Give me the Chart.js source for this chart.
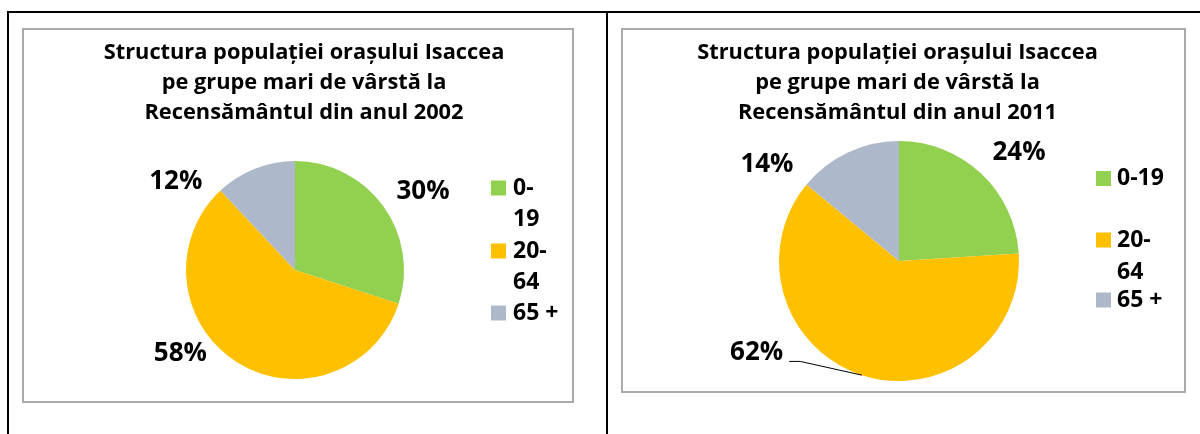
<!DOCTYPE html>
<html>
<head>
<meta charset="utf-8">
<script src="https://cdn.jsdelivr.net/npm/chart.js@4"></script>
<style>
	body { margin: 0; width: 1200px; height: 434px; background: #fff; position: relative; overflow: hidden; }
	.rule { position: absolute; background: #000; }
	.holder { position: absolute; }
	.frame { position: absolute; border: 2px solid #aaaaaa; box-sizing: border-box; pointer-events: none; }
</style>
</head>
<body>
<div class="rule" style="left:7px;top:11px;width:1193px;height:2px"></div>
<div class="rule" style="left:7px;top:11px;width:2px;height:423px"></div>
<div class="rule" style="left:606px;top:11px;width:2px;height:423px"></div>

<div class="holder" style="left:22px;top:28px;width:552px;height:375px"><canvas id="chart2002"></canvas></div>
<div class="frame" style="left:22px;top:28px;width:552px;height:375px"></div>

<div class="holder" style="left:621px;top:28px;width:565px;height:365px"><canvas id="chart2011"></canvas></div>
<div class="frame" style="left:621px;top:28px;width:565px;height:365px"></div>

<script>
// --- Data ---
const categories = ["0-19", "20-64", "65 +"];
const sliceColors = ["#92D050", "#FFC000", "#ADB9CA"];
const values2002 = [30, 58, 12];
const values2011 = [24, 62, 14];
const title2002 = ["Structura populației orașului Isaccea", "pe grupe mari de vârstă la", "Recensământul din anul 2002"];
const title2011 = ["Structura populației orașului Isaccea", "pe grupe mari de vârstă la", "Recensământul din anul 2011"];

const FONT = "'Open Sans', 'Noto Sans', sans-serif";

// draws title, percentage labels and legend on top of the pie
const decorPlugin = {
	id: "decor",
	afterDraw(chart, args, opts) {
		const ctx = chart.ctx;
		const arcs = chart.getDatasetMeta(0).data;
		const data = chart.data.datasets[0].data;
		const colors = chart.data.datasets[0].backgroundColor;
		const total = data.reduce((a, b) => a + b, 0);
		ctx.save();
		ctx.fillStyle = "#000";
		ctx.textBaseline = "middle";

		// title
		ctx.textAlign = "center";
		ctx.font = "bold 21.8px " + FONT;
		opts.title.forEach((line, i) => {
			ctx.fillText(line, opts.titleX, opts.titleY + i * opts.titleStep);
		});

		// percentage labels
		ctx.font = "bold 26px " + FONT;
		arcs.forEach((arc, i) => {
			const p = opts.labels[i];
			const mid = (arc.startAngle + arc.endAngle) / 2;
			const a = mid + (p.da * Math.PI) / 180;
			const d = arc.outerRadius * p.k;
			const x = arc.x + Math.cos(a) * d;
			const y = arc.y + Math.sin(a) * d;
			const txt = Math.round((data[i] / total) * 100) + "%";
			ctx.fillStyle = "#000";
			ctx.fillText(txt, x, y);
			if (p.leader) {
				const w = ctx.measureText(txt).width;
				const ex = arc.x + Math.cos(mid) * arc.outerRadius;
				const ey = arc.y + Math.sin(mid) * arc.outerRadius;
				ctx.strokeStyle = "#000";
				ctx.lineWidth = 1;
				ctx.beginPath();
				ctx.moveTo(x + w / 2 + 6, y + 9);
				ctx.lineTo(x + w / 2 + 17, y + 9);
				ctx.lineTo(ex, ey);
				ctx.stroke();
			}
		});

		// legend
		const lg = opts.legend;
		ctx.textAlign = "left";
		ctx.font = "bold 23px " + FONT;
		chart.data.labels.forEach((label, i) => {
			let lines = [label];
			if (ctx.measureText(label).width > lg.maxWidth && label.includes("-")) {
				const k = label.indexOf("-") + 1;
				lines = [label.slice(0, k), label.slice(k)];
			}
			const y0 = lg.rows[i];
			ctx.fillStyle = colors[i];
			ctx.fillRect(lg.x, y0 - 7.5, 15, 15);
			ctx.fillStyle = "#000";
			lines.forEach((l, j) => ctx.fillText(l, lg.x + lg.gap, y0 + j * lg.step));
		});
		ctx.restore();
	},
};

function makePie(id, values, padding, decor) {
	return new Chart(document.getElementById(id), {
		type: "pie",
		data: {
			labels: categories,
			datasets: [
				{
					data: values,
					backgroundColor: sliceColors,
					borderWidth: 0,
				},
			],
		},
		options: {
			responsive: true,
			maintainAspectRatio: false,
			animation: false,
			layout: { padding: padding },
			plugins: {
				legend: { display: false },
				tooltip: { enabled: false },
				decor: decor,
			},
		},
		plugins: [decorPlugin],
	});
}

makePie("chart2002", values2002, { left: 164, right: 170, top: 133, bottom: 24 }, {
	title: title2002,
	titleX: 282,
	titleY: 24.5,
	titleStep: 30,
	labels: [
		{ da: 4.6, k: 1.376 },
		{ da: 21.6, k: 1.3 },
		{ da: -31.9, k: 1.36 },
	],
	legend: { x: 469, gap: 22, rows: [160, 223, 285], step: 31.5, maxWidth: 40 },
});

makePie("chart2011", values2011, { left: 158, right: 167, top: 113, bottom: 12 }, {
	title: title2011,
	titleX: 276.5,
	titleY: 24.5,
	titleStep: 30,
	labels: [
		{ da: 4.6, k: 1.35 },
		{ da: 39.3, k: 1.41, leader: true },
		{ da: -28.8, k: 1.36 },
	],
	legend: { x: 475, gap: 21, rows: [150.5, 212, 272], step: 32.5, maxWidth: 54 },
});
</script>
</body>
</html>
